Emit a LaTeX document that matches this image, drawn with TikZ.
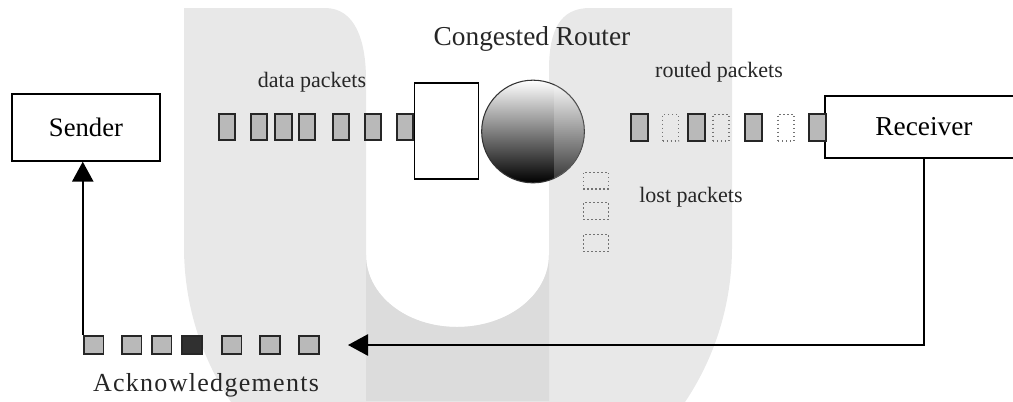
\documentclass[tikz,border=0pt]{standalone}
\usepackage{fontspec}
\setmainfont{Liberation Serif}
\newfontfamily\ackfont[LetterSpace=5]{Liberation Serif}
\usetikzlibrary{arrows.meta}
\definecolor{wmlight}{RGB}{232,232,232}
\definecolor{wmdark}{RGB}{220,220,220}
\definecolor{pktfill}{RGB}{185,185,185}
\definecolor{pktdark}{RGB}{48,48,48}
\begin{document}
\begin{tikzpicture}[x=0.75pt,y=-0.75pt,
  box/.style={draw=black, line width=1.3pt, fill=white, inner sep=0pt},
  pkt/.style={draw=black!85, line width=1.3pt, fill=pktfill, inner sep=0pt, minimum width=12.4pt, minimum height=19.8pt},
  ghost/.style={draw=black!55, dotted, line width=1pt, inner sep=0pt, minimum width=12pt, minimum height=20pt},
  ackpkt/.style={draw=black!85, line width=1.3pt, fill=pktfill, inner sep=0pt, minimum width=14.8pt, minimum height=14pt},
  lostpkt/.style={draw=black!55, dotted, line width=1pt, inner sep=0pt, minimum width=19pt, minimum height=12.5pt},
  lbl/.style={inner sep=0pt, text=black!85},
  conn/.style={line width=1.2pt, -{Triangle[length=15pt,width=16pt]}}]
\useasboundingbox (0,0) rectangle (1013,401);
\clip (0,0) rectangle (1013,401);
% watermark
\fill[wmlight] (184,8) -- (325,8) .. controls (355,8) and (366,40) .. (366,80) -- (366,255)
  .. controls (366,295) and (406,327) .. (457,327) .. controls (508,327) and (549,295) .. (549,255)
  -- (549,70) .. controls (549,30) and (560,8) .. (590,8) -- (732,8) -- (732,247)
  .. controls (732,400) and (609,524) .. (458,524) .. controls (307,524) and (184,400) .. (184,247) -- cycle;
\fill[wmdark] (366,255) .. controls (366,295) and (406,327) .. (457,327) .. controls (508,327) and (549,295) .. (549,255)
  -- (549,401) -- (366,401) -- cycle;
% end hosts
\node[box, minimum width=111pt, minimum height=50pt] (sender) at (86,127.5) {\fontsize{20}{24}\selectfont Sender};
\node[box, minimum width=148.5pt, minimum height=46.5pt] (receiver) at (924,127) {\fontsize{20.5}{24}\selectfont Receiver\hspace{5pt}};
% data packets
\foreach \x [count=\i] in {227,259,283.5,307,341,373,405}
  \node[pkt] (d\i) at (\x,127) {};
% router
\node[box, minimum width=48pt, minimum height=72.5pt] (queue) at (446.5,131) {};
\node[circle, draw=black!80, line width=0.8pt, minimum size=77pt, inner sep=0pt,
      top color=white, bottom color=black] (router) at (533,131.5) {};
\begin{scope}
  \clip (router.center) circle (51.5);
  \fill[white, opacity=0.2] (554,70) rectangle (600,200);
\end{scope}
% routed packets
\foreach \x [count=\i] in {639.5,696.5,753.5,817.5}
  \node[pkt] (r\i) at (\x,127.5) {};
\foreach \x [count=\i] in {670.5,721,786}
  \node[ghost] (g\i) at (\x,127.5) {};
% lost packets
\foreach \y [count=\i] in {180.5,211,243}
  \node[lostpkt] (l\i) at (596,\y) {};
% acknowledgements
\foreach \x [count=\i] in {93.5,131.5,161.5,192,231.5,270,309}
  \node[ackpkt] (a\i) at (\x,345) {};
\node[ackpkt, fill=pktdark] at (a4) {};
% connectors
\coordinate (acktip) at (348,345);
\draw[conn] (receiver.south) |- (acktip);
\draw[conn] (a1.north west) -- (a1.north west |- sender.south);
% labels
\node[lbl, font=\fontsize{20.5}{24}\selectfont] (title) at (532,39) {Congested Router};
\node[lbl, font=\fontsize{16.5}{20}\selectfont] (datalbl) at (312,82) {data packets};
\node[lbl, font=\fontsize{16.5}{20}\selectfont] (routedlbl) at (719,72) {routed packets};
\node[lbl, font=\fontsize{16.5}{20}\selectfont] (lostlbl) at (691,197) {lost packets};
\node[lbl, font=\ackfont\fontsize{19.5}{22}\selectfont] (acklbl) at (206,385) {Acknowledgements};
\end{tikzpicture}
\end{document}
